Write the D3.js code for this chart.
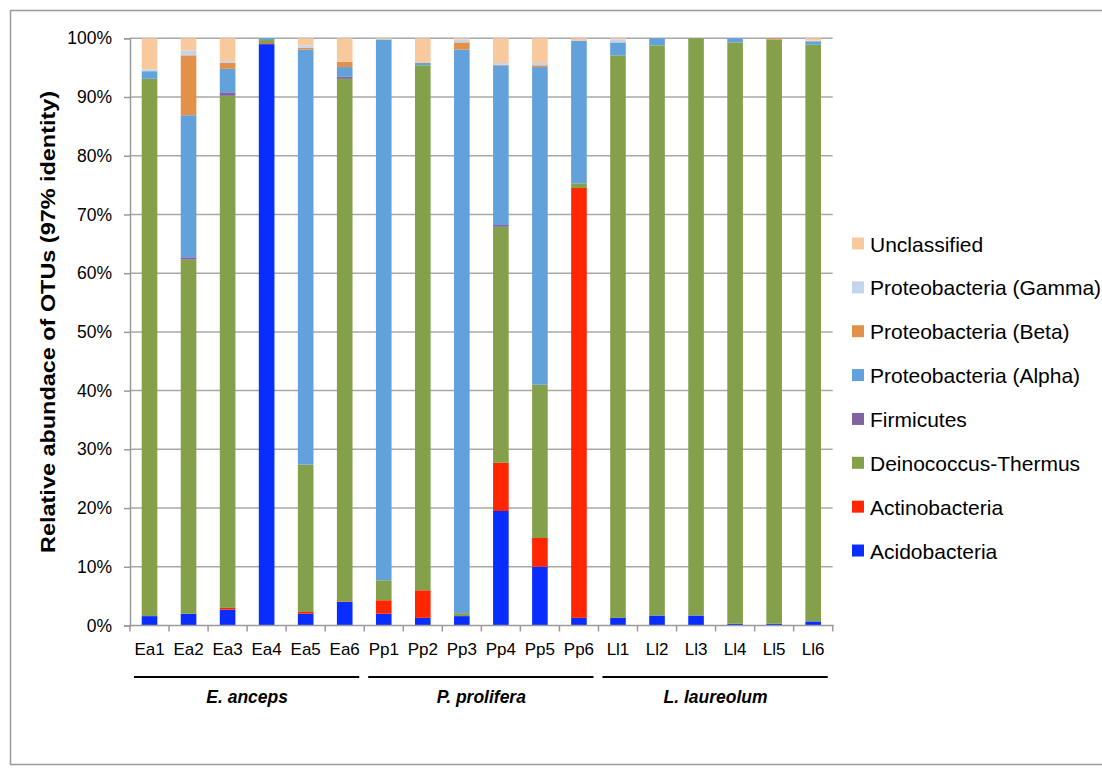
<!DOCTYPE html>
<html>
<head>
<meta charset="utf-8">
<script src="https://cdn.jsdelivr.net/npm/d3@7"></script>
<style>
  body { margin: 0; background: #fff; overflow: hidden; }
  text { font-family: "Liberation Sans", Arial, sans-serif; fill: #000; }
</style>
</head>
<body>
<svg id="chart" width="1102" height="771"></svg>
<script>
// samples and groups
const samples = ["Ea1","Ea2","Ea3","Ea4","Ea5","Ea6","Pp1","Pp2","Pp3","Pp4","Pp5","Pp6","Ll1","Ll2","Ll3","Ll4","Ll5","Ll6"];
const groups = ["E. anceps","P. prolifera","L. laureolum"];
const phyla = ["Acidobacteria","Actinobacteria","Deinococcus-Thermus","Firmicutes",
               "Proteobacteria (Alpha)","Proteobacteria (Beta)","Proteobacteria (Gamma)","Unclassified"];
const colors = ["#0a2dff","#ff2600","#84a04a","#8064a2","#63a1db","#e2914b","#c3d5ec","#f9c99e"];

// percent of OTUs, one array per phylum (order = samples)
const acidobacteria  = [1.6, 2.0, 2.7, 99.0, 2.0, 4.0, 2.0, 1.3, 1.6, 19.5, 10.0, 1.3, 1.3, 1.7, 1.7, 0.3, 0.3, 0.7];
const actinobacteria = [0, 0, 0.3, 0.15, 0.3, 0.1, 2.3, 4.7, 0, 8.2, 4.9, 73.2, 0, 0, 0, 0, 0, 0];
const deinococcus    = [91.5, 60.3, 87.2, 0.55, 25.1, 89.0, 3.4, 89.4, 0.5, 40.2, 26.1, 0.8, 95.8, 97.1, 98.3, 99.0, 99.5, 98.2];
const firmicutes     = [0, 0.4, 0.6, 0, 0, 0.4, 0, 0, 0, 0.3, 0, 0, 0, 0, 0, 0, 0, 0];
const alpha          = [1.3, 24.2, 4.0, 0.3, 70.7, 1.6, 92.1, 0.4, 96.0, 27.2, 54.1, 24.3, 2.2, 1.2, 0, 0.7, 0, 0.6];
const beta           = [0, 10.2, 1.0, 0, 0.3, 0.9, 0, 0, 1.2, 0.1, 0.3, 0, 0, 0, 0, 0, 0.2, 0];
const gamma          = [0.3, 0.8, 0.3, 0, 0.4, 0, 0, 0, 0.5, 0.3, 0.4, 0, 0.5, 0, 0, 0, 0, 0.1];
const unclassified   = [5.3, 2.1, 3.9, 0, 1.2, 4.0, 0.2, 4.2, 0.2, 4.2, 4.2, 0.4, 0.2, 0, 0, 0, 0, 0.4];
const yTicks = [0,10,20,30,40,50,60,70,80,90,100];

const series = [acidobacteria, actinobacteria, deinococcus, firmicutes, alpha, beta, gamma, unclassified];
const table = samples.map((s, i) => {
  const row = { sample: s };
  phyla.forEach((p, k) => row[p] = series[k][i]);
  return row;
});

const svg = d3.select("#chart");
const plotLeft = 130, plotRight = 832.7, plotTop = 38.3, plotBottom = 625.5;

// outer frame (right side runs off the page)
svg.append("rect")
  .attr("x", 10.5).attr("y", 10.5)
  .attr("width", 1200).attr("height", 754)
  .attr("fill", "none").attr("stroke", "#9a9a9a").attr("stroke-width", 1.5);

const x = d3.scaleBand().domain(samples).range([plotLeft, plotRight])
  .paddingInner(0.6).paddingOuter(0.3);
const y = d3.scaleLinear().domain([0, 100]).range([plotBottom, plotTop]);

// gridlines
svg.append("g").selectAll("line")
  .data(yTicks.filter(d => d > 0))
  .enter().append("line")
  .attr("x1", plotLeft).attr("x2", plotRight)
  .attr("y1", d => y(d)).attr("y2", d => y(d))
  .attr("stroke", "#a8a8a8").attr("stroke-width", 1.5);

// stacked bars
const stacked = d3.stack().keys(phyla)(table);
svg.append("g").selectAll("g")
  .data(stacked)
  .enter().append("g")
  .attr("fill", (d, i) => colors[i])
  .selectAll("rect")
  .data(d => d)
  .enter().append("rect")
  .attr("x", d => x(d.data.sample))
  .attr("width", x.bandwidth())
  .attr("y", d => y(d[1]))
  .attr("height", d => Math.max(0, y(d[0]) - y(d[1])));

// y axis
const yAxis = d3.axisLeft(y).tickValues(yTicks).tickFormat(d => d + "%").tickSize(6).tickPadding(12);
const gy = svg.append("g").attr("transform", "translate(" + plotLeft + ",0)").call(yAxis);
gy.select(".domain").attr("stroke", "#9a9a9a").attr("stroke-width", 1.5);
gy.selectAll(".tick line").attr("stroke", "#9a9a9a").attr("stroke-width", 1.5);
gy.selectAll("text").style("font-size", "17.5px").attr("fill", "#000");

// x axis line and boundary ticks
svg.append("line")
  .attr("x1", plotLeft).attr("x2", plotRight + 1)
  .attr("y1", plotBottom).attr("y2", plotBottom)
  .attr("stroke", "#9a9a9a").attr("stroke-width", 1.5);
svg.append("g").selectAll("line")
  .data(d3.range(samples.length + 1))
  .enter().append("line")
  .attr("x1", i => plotLeft + i * x.step()).attr("x2", i => plotLeft + i * x.step())
  .attr("y1", plotBottom).attr("y2", plotBottom + 6)
  .attr("stroke", "#9a9a9a").attr("stroke-width", 1.5);

svg.append("g").selectAll("text")
  .data(samples)
  .enter().append("text")
  .attr("x", d => x(d) + x.bandwidth() / 2)
  .attr("y", 655)
  .attr("text-anchor", "middle")
  .style("font-size", "17px")
  .text(d => d);

// group underlines and names
const groupSize = samples.length / groups.length;
groups.forEach((g, i) => {
  const x0 = plotLeft + i * groupSize * x.step();
  const x1 = x0 + groupSize * x.step();
  svg.append("line")
    .attr("x1", x0 + 4).attr("x2", x1 - 5)
    .attr("y1", 677).attr("y2", 677)
    .attr("stroke", "#000").attr("stroke-width", 2);
  svg.append("text")
    .attr("x", (x0 + x1) / 2).attr("y", 703)
    .attr("text-anchor", "middle")
    .style("font-size", "17.5px").style("font-weight", "bold").style("font-style", "italic")
    .text(g);
});

// y label
svg.append("text")
  .attr("transform", "translate(55," + ((plotTop + plotBottom) / 2 - 10) + ") rotate(-90)")
  .attr("text-anchor", "middle")
  .attr("textLength", 462).attr("lengthAdjust", "spacingAndGlyphs")
  .style("font-size", "20px").style("font-weight", "bold")
  .text("Relative abundace of OTUs (97% identity)");

// legend, top row = last phylum
const legend = svg.append("g").selectAll("g")
  .data(phyla.slice().reverse())
  .enter().append("g")
  .attr("transform", (d, i) => "translate(852," + (243.5 + i * 43.86) + ")");
legend.append("rect")
  .attr("x", 0).attr("y", -6).attr("width", 12).attr("height", 12)
  .attr("fill", d => colors[phyla.indexOf(d)]);
legend.append("text")
  .attr("x", 18).attr("y", 8)
  .style("font-size", "21px")
  .text(d => d);
</script>
</body>
</html>
